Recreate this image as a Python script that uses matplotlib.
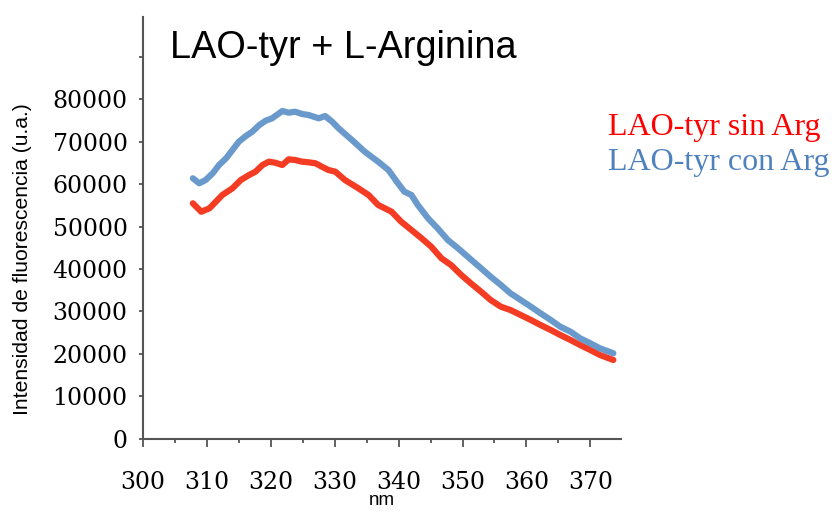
import numpy as np
import matplotlib.pyplot as plt

nm_sin = [307.8, 309.1, 310.4, 311.4, 312.4, 314.0, 315.3, 316.6, 317.6, 318.7,
          319.7, 320.7, 321.8, 322.8, 323.8, 324.9, 325.9, 327.0, 328.0, 329.0,
          330.1, 331.6, 333.7, 335.3, 336.8, 338.9, 340.4, 342.0, 343.6, 345.1,
          346.7, 348.2, 349.8, 351.3, 352.9, 354.4, 356.0, 357.5, 359.1, 360.7,
          362.2, 363.8, 365.3, 366.9, 368.4, 370.0, 371.5, 373.6]
int_sin = [55460, 53480, 54280, 55840, 57410, 58990, 60940, 62120, 62900, 64470,
           65250, 65010, 64470, 65810, 65650, 65250, 65110, 64870, 64070, 63300,
           62900, 60940, 58990, 57410, 55060, 53480, 51130, 49180, 47220, 45250,
           42520, 40940, 38590, 36640, 34660, 32710, 31130, 30350, 29180, 28000,
           26820, 25650, 24470, 23290, 22120, 20940, 19770, 18590]

nm_con = [307.8, 308.8, 309.8, 310.9, 311.9, 313.0, 314.0, 315.0, 316.1, 317.1,
          318.2, 319.2, 320.2, 321.3, 321.8, 322.8, 323.8, 324.9, 325.9, 327.0,
          327.5, 328.5, 329.6, 330.6, 332.7, 334.7, 336.8, 338.4, 339.9, 340.9,
          342.0, 343.0, 344.6, 346.1, 347.7, 349.3, 350.8, 352.9, 354.4, 356.0,
          357.5, 359.1, 360.7, 362.2, 363.8, 365.3, 366.9, 368.4, 370.0, 371.5,
          373.6]
int_con = [61340, 60170, 60940, 62520, 64470, 66050, 68000, 69960, 71300, 72310,
           73880, 74900, 75460, 76640, 77180, 76780, 77010, 76470, 76240, 75700,
           75460, 76000, 74660, 73110, 70350, 67600, 65250, 63300, 60170, 58190,
           57410, 55060, 51930, 49580, 46820, 44870, 42900, 40170, 38190, 36240,
           34280, 32710, 31130, 29580, 28000, 26420, 25250, 23690, 22520, 21340,
           20170]

xticks = [300, 310, 320, 330, 340, 350, 360, 370]
yticks = [0, 10000, 20000, 30000, 40000, 50000, 60000, 70000, 80000, 90000]
ytick_labels = ['0', '10000', '20000', '30000', '40000', '50000', '60000',
                '70000', '80000', '']

fig = plt.figure(figsize=(8.32, 5.12), dpi=100)
ax = fig.add_axes([0.1719, 0.1426, 0.5745, 0.8242])

ax.plot(nm_sin, int_sin, color='#F43C24', linewidth=4.5, solid_capstyle='round')
ax.plot(nm_con, int_con, color='#6A9ACB', linewidth=4.5, solid_capstyle='round')

ax.set_xlim(300.47, 374.8)
ax.set_ylim(0, 99300)

for s in ['top', 'right']:
    ax.spines[s].set_visible(False)
for s in ['left', 'bottom']:
    ax.spines[s].set_color('#555555')
    ax.spines[s].set_linewidth(1.5)

ax.set_xticks(xticks)
ax.set_xticks(np.arange(305, 375, 10), minor=True)
ax.set_xticklabels([str(v) for v in xticks], fontfamily='DejaVu Serif', fontsize=17)
ax.set_yticks(yticks)
ax.set_yticklabels(ytick_labels, fontfamily='DejaVu Serif', fontsize=17)
ax.tick_params(axis='x', which='major', length=6, width=1.3, color='#555555', pad=17)
ax.tick_params(axis='x', which='minor', length=3, width=1.3, color='#555555')
ax.tick_params(axis='y', length=3, width=1.3, color='#555555', pad=8)

ax.set_xlabel('nm', fontfamily='Liberation Sans', fontsize=13.5, labelpad=-1.5)
ax.set_ylabel('Intensidad de fluorescencia (u.a.)', fontfamily='Liberation Sans',
              fontsize=15.2)
ax.yaxis.set_label_coords(-0.232, 0.427)

fig.text(0.204, 0.906, 'LAO-tyr + L-Arginina', fontfamily='Liberation Sans',
         fontsize=27.3, va='center', ha='left')
fig.text(0.731, 0.75, 'LAO-tyr sin Arg', color='#FF0000',
         fontfamily='Liberation Serif', fontsize=23, va='center', ha='left')
fig.text(0.731, 0.682, 'LAO-tyr con Arg', color='#4F81BD',
         fontfamily='Liberation Serif', fontsize=23, va='center', ha='left')

plt.savefig('out.png', dpi=100)
